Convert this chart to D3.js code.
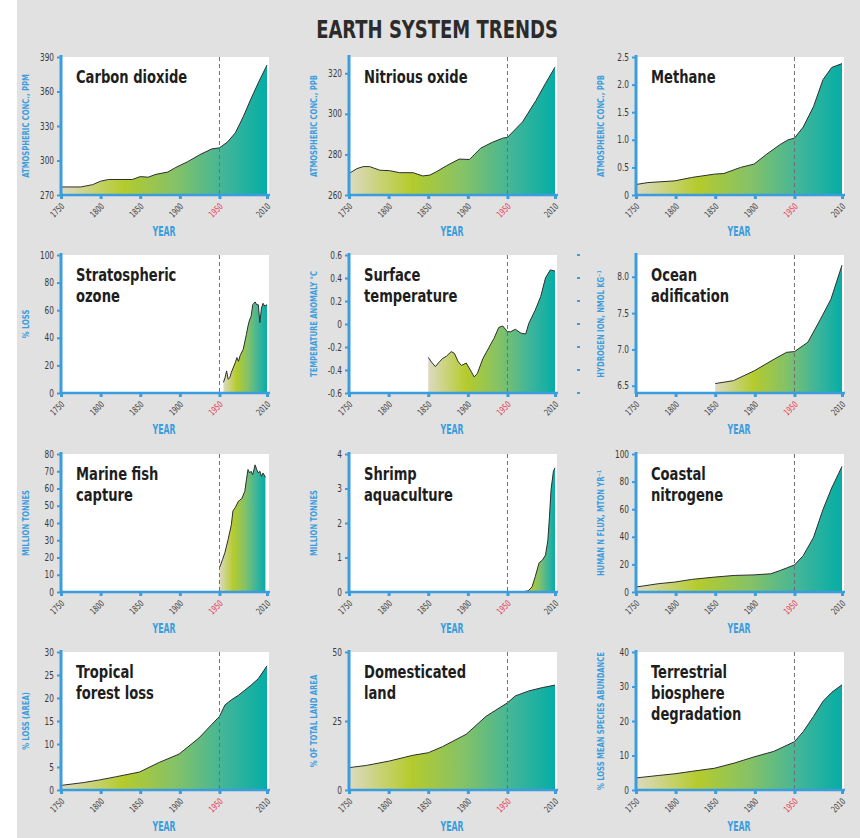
<!DOCTYPE html>
<html><head><meta charset="utf-8">
<script src="https://cdn.jsdelivr.net/npm/d3@7"></script>
<style>
body{margin:0;background:#fff;}
svg{display:block;}
text{font-family:"DejaVu Sans Condensed","DejaVu Sans",sans-serif;}
</style></head><body>
<svg id="chart" width="860" height="838"></svg>
<script>
// ---------- DATA ----------
const xTicks = [1750, 1800, 1850, 1900, 1950, 2010];
const xTickLabels = ["1750", "1800", "1850", "1900", "1950", "2010"];

const panelTitles = [
  ["Carbon dioxide"], ["Nitrious oxide"], ["Methane"],
  ["Stratospheric", "ozone"], ["Surface", "temperature"], ["Ocean", "adification"],
  ["Marine fish", "capture"], ["Shrimp", "aquaculture"], ["Coastal", "nitrogene"],
  ["Tropical", "forest loss"], ["Domesticated", "land"], ["Terrestrial", "biosphere", "degradation"]
];
const yTitles = [
  "ATMOSPHERIC CONC., PPM", "ATMOSPHERIC CONC., PPB", "ATMOSPHERIC CONC., PPB",
  "% LOSS", "TEMPERATURE ANOMALY °C", "HYDROGEN ION, NMOL KG⁻¹",
  "MILLION TONNES", "MILLION TONNES", "HUMAN N FLUX, MTON YR⁻¹",
  "% LOSS (AREA)", "% OF TOTAL LAND AREA", "% LOSS MEAN SPECIES ABUNDANCE"
];
const yDomains = [
  [270, 390], [260, 328], [0, 2.5],
  [0, 100], [-0.6, 0.6], [6.4, 8.3],
  [0, 80], [0, 4], [0, 100],
  [0, 30], [0, 50], [0, 40]
];
const yTickValues = [
  [270, 300, 330, 360, 390], [260, 280, 300, 320], [0, 0.5, 1, 1.5, 2, 2.5],
  [0, 20, 40, 60, 80, 100], [-0.6, -0.4, -0.2, 0, 0.2, 0.4, 0.6], [6.5, 7, 7.5, 8],
  [0, 10, 20, 30, 40, 50, 60, 70, 80], [0, 1, 2, 3, 4], [0, 20, 40, 60, 80, 100],
  [0, 5, 10, 15, 20, 25, 30], [0, 25, 50], [0, 10, 20, 30, 40]
];
const yTickLabels = [
  ["270", "300", "330", "360", "390"], ["260", "280", "300", "320"], ["0", "0.5", "1.0", "1.5", "2.0", "2.5"],
  ["0", "20", "40", "60", "80", "100"], ["-0.6", "-0.4", "-0.2", "0", "0.2", "0.4", "0.6"], ["6.5", "7.0", "7.5", "8.0"],
  ["0", "10", "20", "30", "40", "50", "60", "70", "80"], ["0", "1", "2", "3", "4"], ["0", "20", "40", "60", "80", "100"],
  ["0", "5", "10", "15", "20", "25", "30"], ["0", "25", "50"], ["0", "10", "20", "30", "40"]
];

const carbonDioxide = [[1750,277],[1775,277],[1790,279],[1800,282],[1810,283.5],[1840,283.5],[1850,286],[1860,285.5],[1870,288],[1885,290],[1895,294],[1910,299],[1925,305],[1940,310],[1950,311],[1960,316],[1970,324],[1980,338],[1990,354],[2000,369],[2010,383]];
const nitrousOxide = [[1750,270.6],[1760,273],[1768,274],[1776,274],[1789,272.2],[1801,272],[1814,271],[1831,271],[1843,269.4],[1852,269.8],[1860,271.4],[1873,274.4],[1889,277.7],[1902,277.5],[1916,283],[1931,286],[1944,288],[1950,288.4],[1969,296],[1986,306.6],[1998,315],[2010,323]];
const methane = [[1750,0.19],[1765,0.225],[1799,0.256],[1820,0.317],[1849,0.378],[1861,0.39],[1882,0.5],[1899,0.56],[1915,0.74],[1932,0.915],[1942,1.0],[1950,1.03],[1961,1.23],[1974,1.6],[1986,2.09],[1997,2.31],[2010,2.38]];
const ozoneLoss = [[1955,7.7],[1957,11],[1959,16],[1961,10],[1963,11],[1965,15],[1970,22],[1972,25.7],[1974,23],[1976,27],[1980,31.7],[1984,42.5],[1986,48.5],[1988,53],[1990,55.6],[1992,64],[1995,66],[1997,64],[1999,64],[2001,51],[2003,61.6],[2005,65],[2007,63],[2010,64]];
const surfaceTemp = [[1850,-0.29],[1854,-0.33],[1859,-0.37],[1864,-0.33],[1868,-0.30],[1873,-0.28],[1879,-0.24],[1883,-0.255],[1888,-0.33],[1892,-0.36],[1898,-0.34],[1904,-0.41],[1908,-0.46],[1912,-0.43],[1919,-0.30],[1927,-0.20],[1933,-0.125],[1939,-0.03],[1944,-0.017],[1950,-0.067],[1954,-0.067],[1960,-0.046],[1967,-0.08],[1973,-0.087],[1977,0.006],[1985,0.12],[1992,0.24],[1998,0.40],[2004,0.47],[2010,0.46]];
const oceanAcid = [[1850,6.53],[1873,6.57],[1900,6.71],[1925,6.87],[1940,6.96],[1950,6.97],[1967,7.10],[1983,7.42],[1996,7.69],[2010,8.16]];
const fishCapture = [[1950,14],[1954,19],[1957,23],[1961,30.6],[1965,39],[1967,47],[1970,49],[1974,52.7],[1978,54],[1982,58.4],[1984,65],[1986,71],[1988,69],[1990,70],[1992,68],[1995,73.7],[1997,71],[1999,69],[2001,70],[2003,67],[2005,69],[2008,66.5]];
const shrimp = [[1965,0],[1970,0.01],[1975,0.03],[1977,0.05],[1981,0.15],[1985,0.44],[1990,0.85],[1994,0.92],[1998,1.07],[2001,1.5],[2003,2.18],[2005,2.96],[2008,3.5],[2010,3.6]];
const coastalNitrogen = [[1750,3.6],[1778,6],[1799,7.2],[1820,9.1],[1849,10.8],[1874,12],[1899,12.4],[1920,13.2],[1932,15.6],[1950,19.6],[1961,26.3],[1974,39.5],[1986,59.8],[1997,75.4],[2010,91]];
const forestLoss = [[1750,1.0],[1778,1.6],[1799,2.2],[1820,2.9],[1849,3.9],[1874,6.0],[1899,7.8],[1924,11.3],[1940,14.2],[1950,16.0],[1957,18.5],[1965,19.6],[1974,20.6],[1990,22.8],[1999,24.2],[2010,27]];
const domesticatedLand = [[1750,8.1],[1772,8.9],[1801,10.5],[1831,12.6],[1850,13.5],[1868,15.7],[1898,20.2],[1923,26.7],[1950,31.6],[1960,34.1],[1977,35.9],[1994,37.1],[2010,38]];
const biosphereDeg = [[1750,3.5],[1778,4.2],[1799,4.7],[1820,5.4],[1849,6.3],[1874,7.8],[1899,9.6],[1924,11.2],[1950,14.0],[1961,16.9],[1974,21.3],[1986,25.7],[1997,28.3],[2010,30.5]];

const seriesList = [carbonDioxide, nitrousOxide, methane, ozoneLoss, surfaceTemp, oceanAcid,
  fishCapture, shrimp, coastalNitrogen, forestLoss, domesticatedLand, biosphereDeg];

// ---------- LAYOUT ----------
const colLeft = [61, 349, 636];
const rowTop = [57, 255, 454, 652];
const plotW = 208, xSpan = 206, plotH = 138;
const blue = "#3b9ddd";

const svg = d3.select("#chart");
svg.append("rect").attr("x", 17).attr("y", 0).attr("width", 843).attr("height", 838).attr("fill", "#e1e1e1");

// condensed text helper: horizontal squeeze along the text direction
function ctext(parent, x, y, str, o) {
  return parent.append("text")
    .attr("transform", `translate(${x},${y}) rotate(${o.rotate || 0}) scale(${o.sx},1)`)
    .attr("text-anchor", o.anchor || "start")
    .attr("dy", o.dy || null)
    .attr("font-size", o.size)
    .attr("font-weight", o.bold ? "bold" : "normal")
    .attr("fill", o.fill)
    .text(str);
}

ctext(svg, 437, 38, "EARTH SYSTEM TRENDS", {sx: 0.8, anchor: "middle", size: 25, bold: true, fill: "#2b2b2b"});

const defs = svg.append("defs");
const grad = defs.append("linearGradient").attr("id", "fillGrad").attr("x1", 0).attr("x2", 1).attr("y1", 0).attr("y2", 0);
[[0, "#dcdac2"], [0.3, "#b5cb2c"], [0.55, "#86c266"], [0.8, "#3fb59a"], [1, "#05ada6"]].forEach(s =>
  grad.append("stop").attr("offset", s[0]).attr("stop-color", s[1]));

seriesList.forEach((data, i) => {
  const col = i % 3, row = Math.floor(i / 3);
  const left = colLeft[col], top = rowTop[row], bottom = top + plotH;
  const x = d3.scaleLinear().domain([1750, 2010]).range([left, left + xSpan]);
  const y = d3.scaleLinear().domain(yDomains[i]).range([bottom, top]);
  const g = svg.append("g");

  g.append("rect").attr("x", left).attr("y", top).attr("width", plotW).attr("height", plotH).attr("fill", "#fff");

  const area = d3.area().x(d => x(d[0])).y0(bottom).y1(d => y(d[1]));
  const line = d3.line().x(d => x(d[0])).y(d => y(d[1]));
  g.append("path").datum(data).attr("d", area).attr("fill", "url(#fillGrad)");
  g.append("path").datum(data).attr("d", line).attr("fill", "none").attr("stroke", "#2e2e2e").attr("stroke-width", 1);

  // 1950 dashed line
  g.append("line").attr("x1", x(1950)).attr("x2", x(1950)).attr("y1", top).attr("y2", bottom)
    .attr("stroke", "#6f6f6f").attr("stroke-width", 1).attr("stroke-dasharray", "4,3");

  // panel title
  panelTitles[i].forEach((ln, k) =>
    ctext(g, left + 15, top + 26 + k * 21, ln, {sx: 0.81, size: 18, bold: true, fill: "#1e1e1e"}));

  // y axis
  const yAxis = d3.axisLeft(y).tickValues(yTickValues[i]).tickSize(4).tickFormat("");
  const ya = g.append("g").attr("transform", `translate(${left},0)`).call(yAxis);
  ya.select(".domain").attr("stroke", blue).attr("stroke-width", 3).attr("d", `M0,${bottom + 1}V${top - 2}`);
  ya.selectAll(".tick line").attr("stroke", blue).attr("stroke-width", 2);
  yTickValues[i].forEach((v, k) =>
    ctext(g, left - 7, y(v), yTickLabels[i][k], {sx: 0.78, anchor: "end", dy: "0.35em", size: 10.5, fill: "#3a3a3a"}));

  // x axis
  const xAxis = d3.axisBottom(x).tickValues(xTicks).tickSize(4).tickFormat("");
  const xa = g.append("g").attr("transform", `translate(0,${bottom})`).call(xAxis);
  xa.select(".domain").attr("stroke", blue).attr("stroke-width", 2.5).attr("d", `M${left},0H${left + plotW + 1}`);
  xa.selectAll(".tick line").attr("stroke", blue).attr("stroke-width", 3);
  xTicks.forEach((v, k) =>
    ctext(g, x(v) + 4, bottom + 12, xTickLabels[k], {sx: 0.75, rotate: -45, anchor: "end", size: 9,
      fill: v === 1950 ? "#e8354c" : "#3a3a3a"}));

  // axis titles
  ctext(g, left + xSpan / 2, bottom + 41, "YEAR", {sx: 0.62, anchor: "middle", size: 14, bold: true, fill: blue});
  ctext(g, left - 35, top + plotH / 2, yTitles[i], {sx: 0.8, rotate: -90, anchor: "middle", dy: "0.35em", size: 9.5, bold: true, fill: blue});

  // stray tick marks next to temperature panel
  if (i === 4) {
    yTickValues[i].forEach(v => g.append("rect").attr("x", 577).attr("y", y(v) - 1)
      .attr("width", 3).attr("height", 2).attr("fill", blue));
  }
});
</script>
</body></html>
